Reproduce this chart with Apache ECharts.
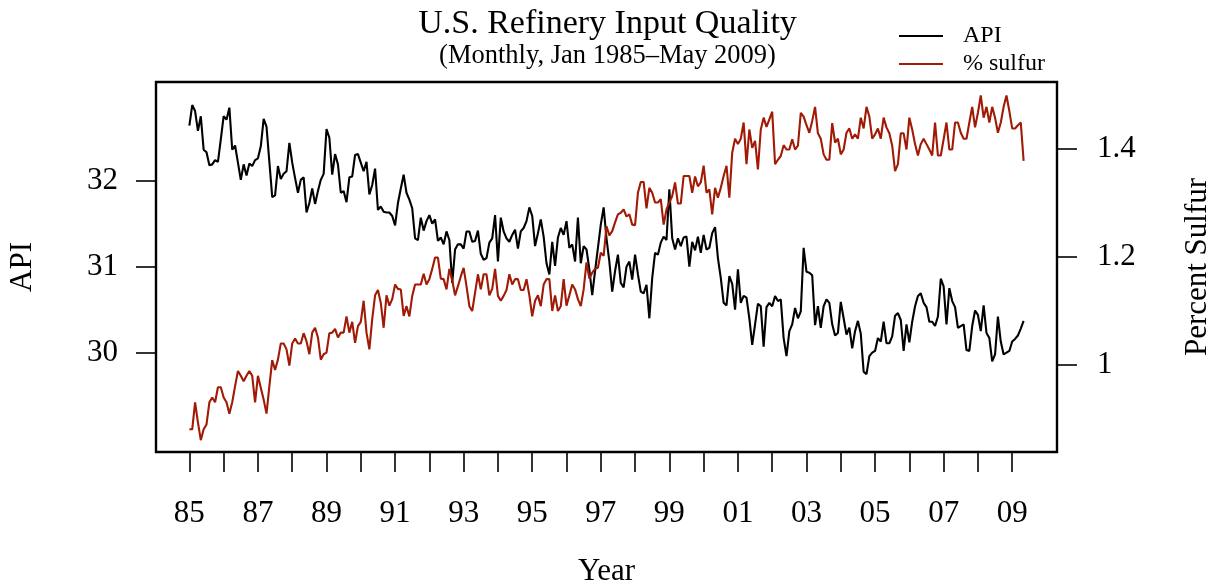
<!DOCTYPE html>
<html>
<head>
<meta charset="utf-8">
<title>U.S. Refinery Input Quality</title>
<script src="https://cdn.jsdelivr.net/npm/echarts@6/dist/echarts.min.js"></script>
<style>
  html, body { margin: 0; padding: 0; background: #fff; }
  #chart { width: 1215px; height: 586px; }
</style>
</head>
<body>
<div id="chart"></div>
<script>
// Monthly values, Jan 1985 .. May 2009 (one row per year)
const apiValues = [
  32.64, 32.88, 32.81, 32.58, 32.75, 32.36, 32.33, 32.18, 32.19, 32.24, 32.22, 32.48,
  32.75, 32.71, 32.85, 32.36, 32.41, 32.21, 32.01, 32.19, 32.06, 32.20, 32.17, 32.24,
  32.26, 32.40, 32.72, 32.63, 32.22, 31.81, 31.83, 32.17, 32.02, 32.08, 32.11, 32.44,
  32.21, 32.03, 31.86, 32.01, 32.04, 31.63, 31.74, 31.91, 31.73, 31.88, 32.01, 32.08,
  32.60, 32.50, 32.07, 32.31, 32.19, 31.86, 31.88, 31.75, 32.04, 32.05, 32.30, 32.31,
  32.21, 32.11, 32.22, 31.84, 31.95, 32.14, 31.66, 31.70, 31.64, 31.63, 31.63, 31.59,
  31.48, 31.74, 31.91, 32.07, 31.86, 31.78, 31.68, 31.33, 31.31, 31.57, 31.42, 31.53,
  31.60, 31.50, 31.55, 31.30, 31.34, 31.26, 31.41, 31.31, 30.81, 31.20, 31.26, 31.26,
  31.21, 31.41, 31.41, 31.29, 31.30, 31.42, 31.15, 31.08, 31.10, 31.28, 31.33, 31.60,
  31.06, 31.57, 31.41, 31.33, 31.29, 31.37, 31.43, 31.21, 31.41, 31.45, 31.53, 31.69,
  31.59, 31.24, 31.39, 31.55, 31.35, 31.04, 30.91, 31.29, 31.01, 31.34, 31.45, 31.37,
  31.53, 31.22, 31.26, 31.06, 31.57, 31.04, 31.24, 31.20, 30.97, 30.67, 30.95, 31.22,
  31.49, 31.69, 31.33, 31.06, 30.71, 30.95, 31.14, 30.81, 30.76, 31.00, 31.06, 30.85,
  31.14, 30.91, 30.71, 30.69, 30.79, 30.40, 30.87, 31.16, 31.14, 31.28, 31.35, 31.31,
  31.90, 31.33, 31.20, 31.33, 31.24, 31.34, 31.35, 31.00, 31.29, 31.19, 31.35, 31.16,
  31.37, 31.20, 31.22, 31.39, 31.46, 31.10, 30.87, 30.58, 30.55, 30.89, 30.80, 30.50,
  30.97, 30.58, 30.66, 30.64, 30.40, 30.09, 30.33, 30.57, 30.54, 30.07, 30.53, 30.58,
  30.54, 30.66, 30.60, 30.62, 30.17, 29.96, 30.25, 30.33, 30.52, 30.40, 30.48, 31.22,
  30.94, 30.93, 30.90, 30.32, 30.54, 30.29, 30.54, 30.62, 30.58, 30.33, 30.20, 30.23,
  30.59, 30.40, 30.21, 30.29, 30.05, 30.25, 30.37, 30.22, 29.78, 29.75, 29.96, 30.00,
  30.02, 30.17, 30.13, 30.36, 30.11, 30.11, 30.19, 30.43, 30.46, 30.38, 30.02, 30.33,
  30.12, 30.36, 30.54, 30.66, 30.69, 30.58, 30.53, 30.36, 30.36, 30.31, 30.42, 30.86,
  30.77, 30.33, 30.75, 30.60, 30.53, 30.29, 30.31, 30.33, 30.03, 30.02, 30.31, 30.49,
  30.44, 30.25, 30.55, 30.23, 30.17, 29.90, 29.98, 30.42, 30.13, 29.98, 30.00, 30.02,
  30.13, 30.16, 30.20, 30.28, 30.37
]

const sulfurValues = [
  0.881, 0.881, 0.931, 0.894, 0.861, 0.881, 0.890, 0.931, 0.940, 0.931, 0.959, 0.959,
  0.940, 0.931, 0.910, 0.931, 0.961, 0.989, 0.980, 0.970, 0.980, 0.989, 0.980, 0.931,
  0.980, 0.958, 0.936, 0.910, 0.961, 1.009, 0.991, 1.010, 1.040, 1.040, 1.029, 0.999,
  1.040, 1.049, 1.040, 1.040, 1.059, 1.044, 1.020, 1.060, 1.069, 1.051, 1.010, 1.020,
  1.023, 1.059, 1.060, 1.067, 1.051, 1.060, 1.060, 1.090, 1.060, 1.080, 1.041, 1.072,
  1.080, 1.119, 1.060, 1.029, 1.085, 1.129, 1.139, 1.115, 1.069, 1.129, 1.110, 1.122,
  1.149, 1.141, 1.140, 1.091, 1.109, 1.090, 1.128, 1.149, 1.149, 1.149, 1.169, 1.149,
  1.159, 1.178, 1.199, 1.199, 1.160, 1.159, 1.140, 1.178, 1.157, 1.129, 1.146, 1.164,
  1.180, 1.146, 1.109, 1.100, 1.134, 1.168, 1.140, 1.168, 1.168, 1.129, 1.141, 1.178,
  1.128, 1.119, 1.128, 1.139, 1.168, 1.149, 1.159, 1.159, 1.139, 1.139, 1.159, 1.129,
  1.090, 1.119, 1.129, 1.109, 1.149, 1.159, 1.159, 1.100, 1.129, 1.100, 1.109, 1.159,
  1.110, 1.129, 1.149, 1.140, 1.122, 1.109, 1.140, 1.190, 1.160, 1.171, 1.178, 1.180,
  1.208, 1.202, 1.257, 1.240, 1.248, 1.264, 1.279, 1.282, 1.288, 1.275, 1.279, 1.260,
  1.259, 1.319, 1.339, 1.339, 1.290, 1.328, 1.319, 1.301, 1.301, 1.307, 1.260, 1.288,
  1.301, 1.313, 1.338, 1.299, 1.299, 1.350, 1.350, 1.350, 1.319, 1.349, 1.331, 1.338,
  1.369, 1.319, 1.325, 1.279, 1.328, 1.310, 1.328, 1.350, 1.369, 1.310, 1.393, 1.419,
  1.409, 1.419, 1.449, 1.372, 1.436, 1.402, 1.415, 1.362, 1.436, 1.458, 1.441, 1.455,
  1.469, 1.372, 1.380, 1.387, 1.407, 1.399, 1.399, 1.418, 1.399, 1.406, 1.467, 1.460,
  1.444, 1.430, 1.452, 1.478, 1.429, 1.419, 1.390, 1.380, 1.380, 1.448, 1.412, 1.419,
  1.390, 1.399, 1.430, 1.438, 1.419, 1.427, 1.419, 1.458, 1.438, 1.478, 1.460, 1.419,
  1.427, 1.438, 1.419, 1.458, 1.440, 1.429, 1.406, 1.359, 1.372, 1.429, 1.429, 1.399,
  1.458, 1.436, 1.409, 1.388, 1.409, 1.419, 1.409, 1.399, 1.388, 1.449, 1.388, 1.388,
  1.418, 1.449, 1.399, 1.399, 1.449, 1.449, 1.430, 1.419, 1.419, 1.449, 1.478, 1.440,
  1.467, 1.499, 1.458, 1.478, 1.449, 1.478, 1.458, 1.430, 1.449, 1.478, 1.499, 1.470,
  1.438, 1.438, 1.444, 1.449, 1.378
]

// Axis ticks and labels
const yearTicks = [1985, 1986, 1987, 1988, 1989, 1990, 1991, 1992, 1993, 1994, 1995, 1996,
  1997, 1998, 1999, 2000, 2001, 2002, 2003, 2004, 2005, 2006, 2007, 2008, 2009]
const yearLabels = [1985, 1987, 1989, 1991, 1993, 1995, 1997, 1999, 2001, 2003, 2005, 2007, 2009]
const apiTicks = [30, 31, 32]
const sulfurTicks = [1, 1.2, 1.4]

const startYear = 1985
const font = "'Liberation Serif', 'Times New Roman', serif"

// month i -> decimal year
const toSeries = vals => vals.map((v, i) => [startYear + i / 12, v])

const chart = echarts.init(document.getElementById('chart'))

const tickStyle = { show: true, length: 20, lineStyle: { color: '#000', width: 1.6 } }
const labelStyle = { color: '#000', fontSize: 31, fontFamily: font }

const option = {
  animation: false,
  backgroundColor: '#fff',
  title: {
    text: 'U.S. Refinery Input Quality',
    subtext: '(Monthly, Jan 1985\u2013May 2009)',
    left: 'center',
    top: 2,
    itemGap: 2,
    textStyle: { color: '#000', fontSize: 34, fontWeight: 'normal', fontFamily: font },
    subtextStyle: { color: '#000', fontSize: 26.5, fontFamily: font },
  },
  legend: [
    {
      data: ['API'],
      left: 899,
      top: 24,
      padding: 0,
      icon: 'rect',
      itemWidth: 44,
      itemHeight: 2,
      textStyle: { color: '#000', fontSize: 24, fontFamily: font, padding: [0, 0, 0, 15] },
    },
    {
      data: ['% sulfur'],
      left: 899,
      top: 52,
      padding: 0,
      icon: 'rect',
      itemWidth: 44,
      itemHeight: 2,
      textStyle: { color: '#000', fontSize: 24, fontFamily: font, padding: [0, 0, 0, 15] },
    },
  ],
  grid: {
    left: 156,
    right: 158,
    top: 82,
    bottom: 134,
    outerBoundsMode: 'none',
    show: true,
    borderColor: '#000',
    borderWidth: 2.4,
  },
  xAxis: {
    type: 'value',
    min: 1984.0267,
    max: 2010.3067,
    axisLine: { show: false },
    splitLine: { show: false },
    axisTick: Object.assign({ customValues: yearTicks }, tickStyle),
    axisLabel: Object.assign({
      customValues: yearLabels,
      margin: 46,
      formatter: v => String(v).slice(2),
    }, labelStyle),
    name: 'Year',
    nameLocation: 'middle',
    nameGap: 104,
    nameTextStyle: labelStyle,
  },
  yAxis: [
    {
      type: 'value',
      position: 'left',
      min: 28.845,
      max: 33.148,
      axisLine: { show: false },
      splitLine: { show: false },
      axisTick: Object.assign({ customValues: apiTicks }, tickStyle),
      axisLabel: Object.assign({ customValues: apiTicks, margin: 38 }, labelStyle),
      name: 'API',
      nameLocation: 'middle',
      nameGap: 118,
      nameTextStyle: labelStyle,
    },
    {
      type: 'value',
      position: 'right',
      min: 0.839,
      max: 1.524,
      axisLine: { show: false },
      splitLine: { show: false },
      axisTick: Object.assign({ customValues: sulfurTicks }, tickStyle),
      axisLabel: Object.assign({ customValues: sulfurTicks, margin: 40 }, labelStyle),
      name: 'Percent Sulfur',
      nameLocation: 'middle',
      nameGap: 125,
      nameTextStyle: labelStyle,
    },
  ],
  series: [
    {
      name: 'API',
      type: 'line',
      yAxisIndex: 0,
      showSymbol: false,
      color: '#000',
      lineStyle: { color: '#000', width: 2.1 },
      data: toSeries(apiValues),
    },
    {
      name: '% sulfur',
      type: 'line',
      yAxisIndex: 1,
      showSymbol: false,
      color: '#a01a06',
      lineStyle: { color: '#a01a06', width: 2.1 },
      data: toSeries(sulfurValues),
    },
  ],
}

chart.setOption(option)
</script>
</body>
</html>
